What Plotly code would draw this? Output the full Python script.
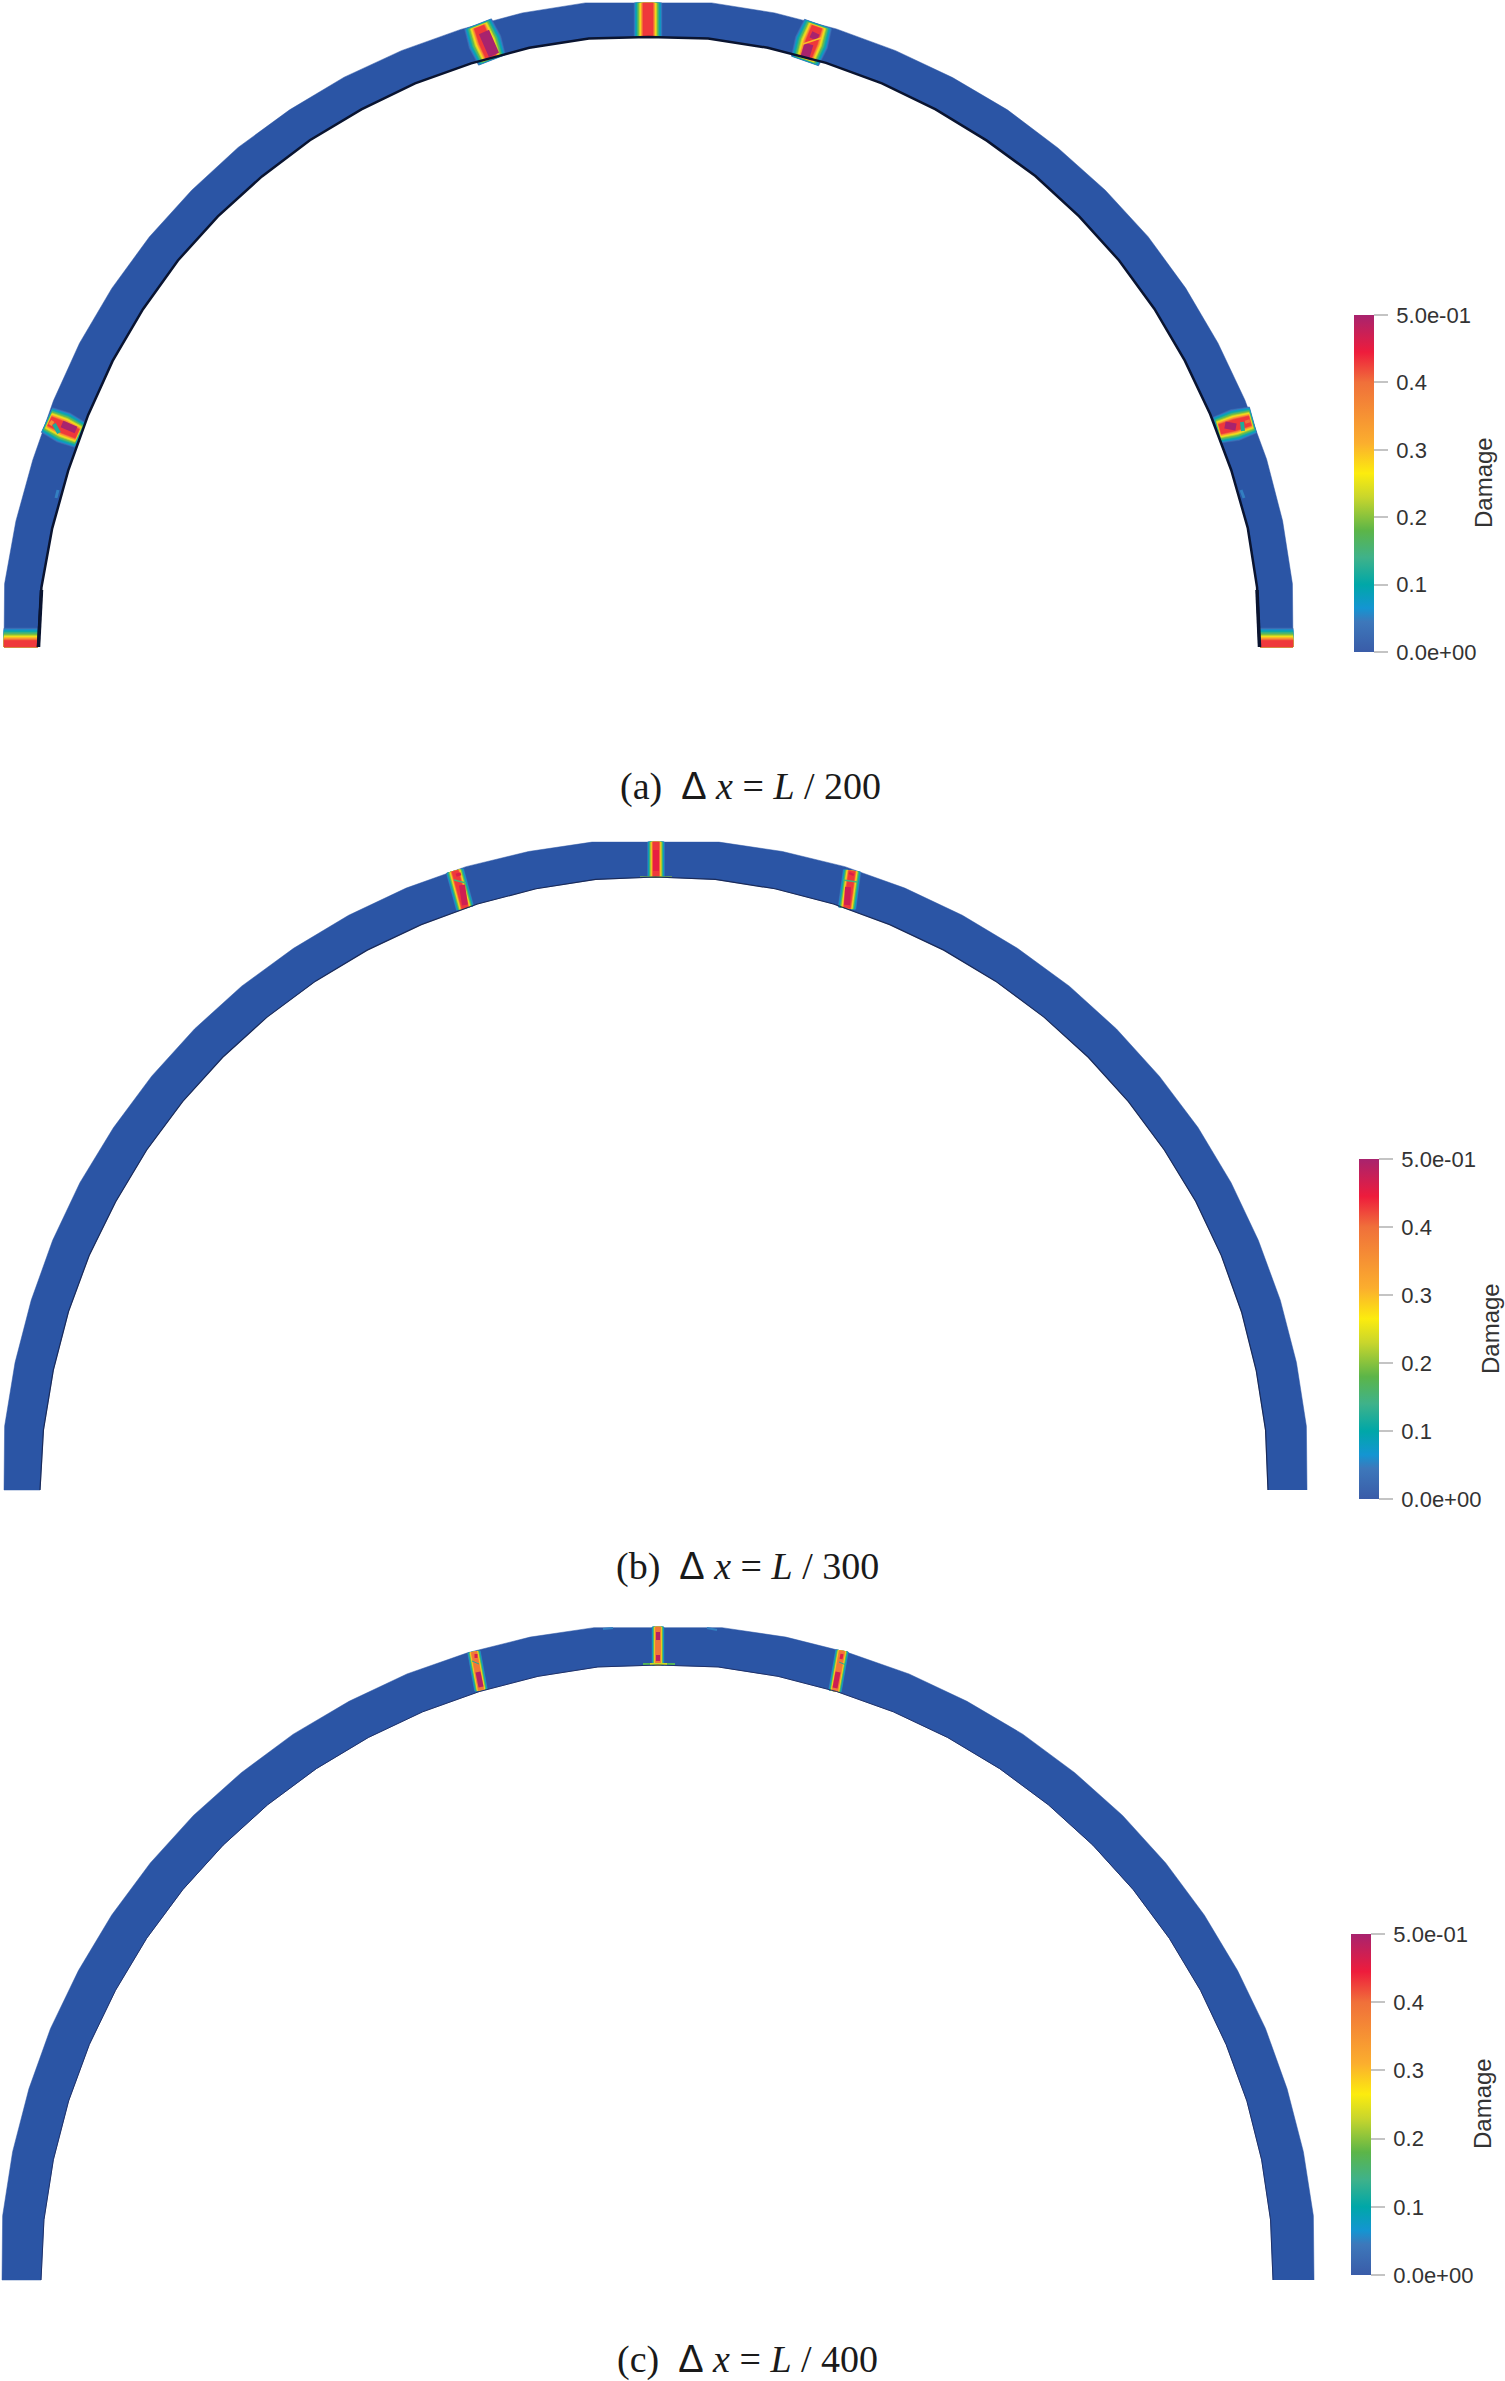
import math
import plotly.graph_objects as go
from plotly.colors import sample_colorscale

W, H = 1505, 2381

# Damage colour map
cmap_cols = ["#3a5ca8", "#3d78bb", "#1495d2", "#00a7a8", "#3fb28a", "#5cb548", "#c9d62c", "#fcec0e",
             "#fbae2e", "#f0703a", "#ee1c3c", "#a8236e"]
cmap_stops = [0.0, 0.09, 0.13, 0.20, 0.28, 0.36, 0.46, 0.53, 0.62, 0.80, 0.89, 1.0]
COLORSCALE = [[s, c] for s, c in zip(cmap_stops, cmap_cols)]

# Damage legend
tick_values = [0.0, 0.1, 0.2, 0.3, 0.4, 0.5]
tick_labels = ["\u20090.0e+00", "\u20090.1", "\u20090.2", "\u20090.3", "\u20090.4", "\u20095.0e-01"]

# Arch boundaries: polar stations (degrees) and radii
outer_deg = [0, 5.6, 11.25, 16.9, 22.5, 28.1, 33.75, 39.4, 45, 50.6, 56.25, 61.9, 67.5, 73.1, 78.75, 84.4,
             95.6, 101.25, 106.9, 112.5, 118.1, 123.75, 129.4, 135, 140.6, 146.25, 151.9, 157.5, 163.1, 168.75, 174.4, 180]
inner_deg = [0, 5.6, 11.25, 16.9, 22.5, 28.1, 33.75, 39.4, 45, 50.6, 56.25, 61.9, 67.5, 73.1, 78.75, 84.4, 90,
             95.6, 101.25, 106.9, 112.5, 118.1, 123.75, 129.4, 135, 140.6, 146.25, 151.9, 157.5, 163.1, 168.75, 174.4, 180]

a_center = (648.5, 647)
a_outer = [644.5, 647, 646.5, 646, 645.5, 645.5, 646, 646.5, 646, 645.5, 646, 645.5, 645.5, 646, 646.5, 647.2,
           647.2, 646.5, 645.5, 645.5, 646, 646, 646.5, 646, 646, 645.5, 645, 644, 643.5, 645, 647, 644.5]
a_inner = [611, 611.5, 611, 609, 608, 608, 608.5, 609, 609, 609.5, 609, 609.5, 610, 610.5, 611, 611.5, 610,
           611.5, 611, 610, 610, 609.5, 609.5, 609, 609, 609, 608, 607.5, 606.5, 606.5, 608, 610, 610.5]

b_center = (655.5, 1490)
b_outer = [651.5, 654, 653.5, 653, 652.5, 652.5, 652.5, 652, 652, 652, 651.5, 651.5, 651.5, 651.5, 651, 651,
           651, 651, 651.5, 651.5, 651.5, 651.5, 652, 652, 652, 652, 652.5, 652.5, 652.5, 653, 654, 651.5]
b_inner = [612.5, 613, 612.5, 612.5, 612.5, 612.5, 612, 612, 612, 612, 612, 612, 612, 612.5, 613, 613.5, 613,
           613.5, 613, 612.5, 612, 612, 612, 612, 612, 612, 612, 612, 613, 613.5, 614, 615, 615.5]

c_center = (658, 2280)
c_outer = [656, 658.5, 658, 657.5, 657.5, 657, 657, 657, 657, 656.5, 656.5, 656, 656, 655.5, 655.5, 655.5,
           655.5, 655.5, 655.5, 656, 656, 656.5, 656.5, 657, 657, 657, 657, 657.5, 657.5, 658, 658.5, 656]
c_inner = [615, 615.5, 615.5, 615.5, 615, 615, 615, 615, 615, 615, 615, 615, 615, 615, 615.5, 616, 615,
           616, 615.5, 615, 615, 615, 615, 615, 615, 615, 615, 615, 615.5, 616, 616.5, 617, 617]

# Damage bands across the arch ring: outer end, inner end, half width each side, peak, end taper
a_ox = [4, 47, 478, 648, 818, 1253, 1293]
a_oy = [647, 420, 24, 3, 24, 420, 647]
a_ix = [38, 80, 492, 648, 805, 1217, 1260]
a_iy = [647, 435, 60, 37, 61, 430, 647]
a_plus = [19, 16, 17, 14, 17, 16, 0]
a_minus = [0, 16, 17, 14, 17, 16, 19]
a_peak = [0.43, 0.43, 0.43, 0.43, 0.43, 0.43, 0.43]
a_taper = [0, 0.08, 0.08, 0, 0.08, 0.08, 0]

b_ox = [455, 656, 852]
b_oy = [871, 842, 871]
b_ix = [465, 656, 847]
b_iy = [908, 877, 908]
b_plus = [9, 8.5, 9]
b_minus = [9, 8.5, 9]
b_peak = [0.43, 0.43, 0.43]
b_taper = [0, 0, 0]

c_ox = [474, 658, 842]
c_oy = [1652, 1627, 1651]
c_ix = [481, 658, 835]
c_iy = [1690, 1665, 1691]
c_plus = [6.5, 6, 6.5]
c_minus = [6.5, 6, 6.5]
c_peak = [0.40, 0.40, 0.40]
c_taper = [0, 0, 0]

# Local features inside the bands: x1, y1, x2, y2, stroke width, damage (None = dark shadow)
a_features = [
    (484, 32, 494, 55, 11, 0.5), (816, 33, 813, 39, 8, 0.5), (809, 44, 805, 57, 9, 0.5),
    (821, 38, 803, 44, 1.5, 0.3),
    (62, 424, 76, 430, 7, 0.5), (50, 422, 53, 424, 5, 0.36), (54, 424, 59, 433, 4, 0.12),
    (1225, 425, 1236, 427, 7, 0.5), (1247, 420, 1248, 423, 5, 0.40), (1242, 422, 1243, 431, 4, 0.12),
    (58, 490, 56, 498, 3, 0.05), (1241, 490, 1244, 498, 3, 0.05),
    (38.5, 647, 41.5, 590, 3.5, None), (1259.5, 647, 1257, 590, 3.5, None),
]
b_features = [
    (458, 873, 459, 876, 5, 0.46), (462, 885, 465, 905, 6, 0.47), (454, 880, 466, 883, 1.5, 0.15),
    (656, 850, 656, 871, 6, 0.45), (852, 873, 851, 875, 5, 0.46), (848, 887, 847, 905, 6, 0.47),
    (843, 880, 857, 882, 1.5, 0.15), (640, 877, 672, 877, 1.2, 0.2),
]
c_features = [
    (658, 1632, 658, 1640, 4, 0.49), (658, 1655, 658, 1661, 4, 0.48),
    (643, 1664, 675, 1664, 2, 0.17), (650, 1664, 667, 1664, 1.5, 0.26),
    (476, 1654, 476, 1658, 3, 0.46), (478, 1672, 481, 1687, 5, 0.49), (472, 1661, 479, 1664, 1, 0.12),
    (842, 1654, 841, 1659, 3, 0.46), (838, 1672, 835, 1688, 5, 0.47), (839, 1662, 846, 1665, 1, 0.12),
    (603, 1629, 613, 1628, 2, 0.05), (707, 1628, 717, 1630, 2, 0.05),
]

# Nested iso-levels of a band: damage and fraction of the half width
level_values = [0.02, 0.04, 0.06, 0.08, 0.11, 0.15, 0.19, 0.23, 0.27, 0.31, 0.35, 0.39, 0.43]
level_widths = [1.0, 0.96, 0.92, 0.88, 0.83, 0.76, 0.69, 0.62, 0.55, 0.50, 0.45, 0.40, 0.36]

captions = [
    ("(a)", "200", 750, 786),
    ("(b)", "300", 747, 1566),
    ("(c)", "400", 747, 2359),
]

# Legend placement per arch
legend_x = [1354, 1359, 1351]
legend_top = [315, 1159, 1934]
legend_bottom = [652, 1499, 2275]
title_x = [1483, 1490, 1482]
title_y = [483, 1329, 2104]

ARCH_COLOR = "#2b55a5"


def col(v):
    return sample_colorscale(COLORSCALE, [v / 0.5])[0]


def ring(center, deg, rad):
    cx, cy = center
    xs = [cx + r * math.cos(math.radians(d)) for d, r in zip(deg, rad)]
    ys = [cy - r * math.sin(math.radians(d)) for d, r in zip(deg, rad)]
    return xs, ys


fig = go.Figure()


def add_arch(center, outer, inner, edge_w, edge_c, ox, oy, ix, iy, plus, minus, peak, taper, features, idx):
    xo, yo = ring(center, outer_deg, outer)
    xi, yi = ring(center, inner_deg, inner)
    fig.add_trace(go.Scatter(x=xo + xi[::-1], y=yo + yi[::-1], mode="lines", fill="toself",
                             fillcolor=ARCH_COLOR, line=dict(color=ARCH_COLOR, width=0.5),
                             hoverinfo="skip", showlegend=False))
    for k in range(len(ox)):
        vx, vy = ox[k] - ix[k], oy[k] - iy[k]
        ln = math.hypot(vx, vy)
        nx, ny = -vy / ln, vx / ln
        for lv, fr in zip(level_values, level_widths):
            if lv > peak[k] + 1e-9:
                continue
            rank = (1 - fr)
            t = taper[k] * rank * 1.6
            ax, ay = ox[k] - vx * t, oy[k] - vy * t
            bx, by = ix[k] + vx * t, iy[k] + vy * t
            mx0, my0 = (ax + bx) / 2, (ay + by) / 2
            p, m = plus[k] * fr, minus[k] * fr
            e = 0.85 if taper[k] > 0 else 1.0   # narrower band ends where the damage fades out
            px = [ax + nx * p * e, mx0 + nx * p, bx + nx * p * e, bx - nx * m * e, mx0 - nx * m, ax - nx * m * e]
            py = [ay + ny * p * e, my0 + ny * p, by + ny * p * e, by - ny * m * e, my0 - ny * m, ay - ny * m * e]
            px.append(px[0])
            py.append(py[0])
            c = col(lv)
            fig.add_trace(go.Scatter(x=px, y=py, mode="lines", fill="toself", fillcolor=c,
                                     line=dict(color=c, width=0.5), hoverinfo="skip", showlegend=False))
    for x1, y1, x2, y2, w, v in features:
        fig.add_trace(go.Scatter(x=[x1, x2], y=[y1, y2], mode="lines",
                                 line=dict(color=edge_c if v is None else col(v), width=w),
                                 hoverinfo="skip", showlegend=False))
    fig.add_trace(go.Scatter(x=xi, y=yi, mode="lines", line=dict(color=edge_c, width=edge_w),
                             hoverinfo="skip", showlegend=False))
    # hidden points of the band peaks carry the damage colour bar
    mx = [(a + b) / 2 for a, b in zip(ox, ix)]
    my = [(a + b) / 2 for a, b in zip(oy, iy)]
    top, bot = legend_top[idx], legend_bottom[idx]
    fig.add_trace(go.Scatter(
        x=mx, y=my, mode="markers", hoverinfo="skip", showlegend=False,
        marker=dict(color=peak, cmin=0, cmax=0.5, colorscale=COLORSCALE, opacity=0, size=1, showscale=True,
                    colorbar=dict(x=legend_x[idx] / W, xanchor="left", xpad=0, ypad=0,
                                  y=1 - bot / H, yanchor="bottom", len=bot - top, lenmode="pixels",
                                  thickness=20, thicknessmode="pixels", outlinewidth=0, borderwidth=0,
                                  tickmode="array", tickvals=tick_values, ticktext=tick_labels,
                                  ticks="outside", ticklen=14, tickwidth=1.5, tickcolor="#c4c4c4",
                                  tickfont=dict(family="Liberation Sans", size=22, color="#333333"))),
    ))
    fig.add_annotation(x=title_x[idx], y=title_y[idx], text="Damage", textangle=-90, showarrow=False,
                       font=dict(family="Liberation Sans", size=24, color="#333333"))


add_arch(a_center, a_outer, a_inner, 2.5, "#0a1430", a_ox, a_oy, a_ix, a_iy, a_plus, a_minus, a_peak, a_taper, a_features, 0)
add_arch(b_center, b_outer, b_inner, 1.2, "#1a2a58", b_ox, b_oy, b_ix, b_iy, b_plus, b_minus, b_peak, b_taper, b_features, 1)
add_arch(c_center, c_outer, c_inner, 1.0, "#1e3068", c_ox, c_oy, c_ix, c_iy, c_plus, c_minus, c_peak, c_taper, c_features, 2)

for tag, n, x, y in captions:
    txt = (f'{tag}\u00a0\u00a0<span style="font-family:Liberation Sans">\u0394</span>\u00a0'
           f'<i>x</i>\u00a0=\u00a0<i>L</i>\u00a0/\u00a0{n}')
    fig.add_annotation(x=x, y=y, text=txt, showarrow=False,
                       font=dict(family="Liberation Serif", size=38, color="#1a1a1a"))

fig.update_layout(
    width=W, height=H, margin=dict(l=0, r=0, t=0, b=0, autoexpand=False),
    paper_bgcolor="white", plot_bgcolor="white", showlegend=False,
    xaxis=dict(range=[0, W], visible=False, fixedrange=True),
    yaxis=dict(range=[H, 0], visible=False, fixedrange=True),
)
fig.write_html("out.html", config={"displayModeBar": False},
               post_script="document.body.style.margin='0';")
